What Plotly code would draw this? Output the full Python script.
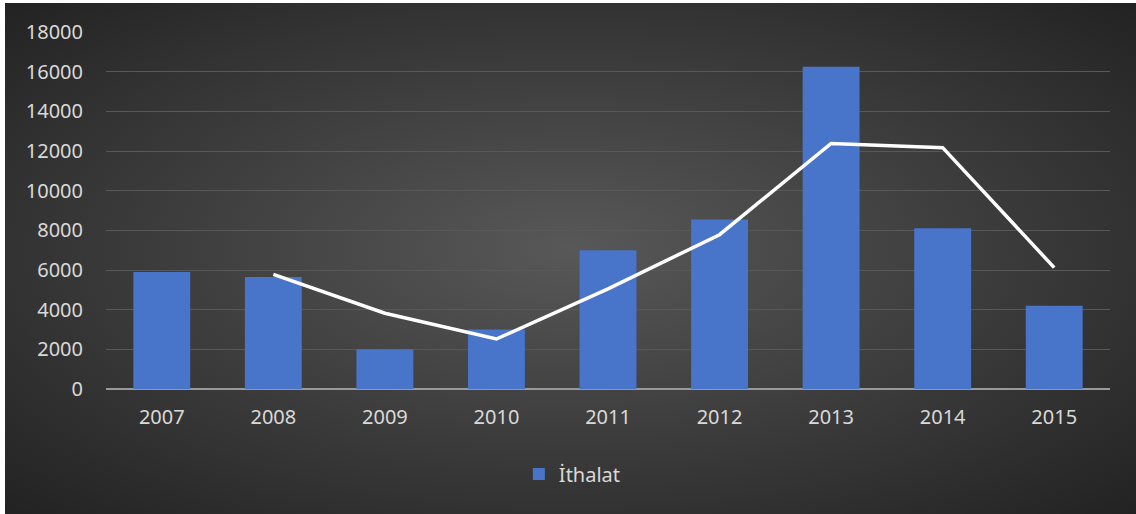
import base64
import plotly.graph_objects as go

years = ["2007", "2008", "2009", "2010", "2011", "2012", "2013", "2014", "2015"]
ithalat = [5900, 5650, 2000, 3000, 7000, 8550, 16250, 8100, 4200]
# trend line (starts at 2008)
trend_years = ["2008", "2009", "2010", "2011", "2012", "2013", "2014", "2015"]
trend = [5780, 3820, 2520, 5050, 7780, 12380, 12170, 6120]
y_ticks = [0, 2000, 4000, 6000, 8000, 10000, 12000, 14000, 16000, 18000]

# radial gradient background as an svg image
svg = """<svg xmlns='http://www.w3.org/2000/svg' width='1131' height='511' preserveAspectRatio='none'>
<defs><radialGradient id='g' cx='50%' cy='50%' r='75%' fx='50%' fy='48%'>
<stop offset='0%' stop-color='#585858'/><stop offset='100%' stop-color='#1f1f1f'/>
</radialGradient></defs><rect width='1131' height='511' fill='url(#g)'/></svg>"""
bg = "data:image/svg+xml;base64," + base64.b64encode(svg.encode()).decode()

fig = go.Figure()
fig.add_trace(go.Bar(
    x=years, y=ithalat, name="İthalat",
    marker=dict(color="#4874c9", line=dict(width=0)),
))
fig.add_trace(go.Scatter(
    x=trend_years, y=trend, mode="lines", showlegend=False,
    line=dict(color="white", width=3.5),
))

L, R, T, B = 106, 26, 32, 125
pw, ph = 1136 - L - R, 514 - T - B

fig.add_layout_image(
    source=bg, xref="paper", yref="paper",
    x=(5 - L) / pw, y=(389 - 3) / ph,
    sizex=(1136 - 5) / pw, sizey=(514 - 3) / ph,
    xanchor="left", yanchor="top", sizing="stretch", layer="below",
)

fig.update_layout(
    width=1136, height=514,
    margin=dict(l=L, r=R, t=T, b=B),
    paper_bgcolor="white", plot_bgcolor="rgba(0,0,0,0)",
    font=dict(family="Noto Sans", size=20, color="#d9d9d9"),
    bargap=0.49,
    showlegend=True,
    legend=dict(orientation="h", x=0.4645, xanchor="center",
                y=(389 - 474) / ph, yanchor="middle",
                font=dict(size=20, color="#d9d9d9"), bgcolor="rgba(0,0,0,0)"),
)
fig.update_xaxes(showgrid=False, ticks="", showline=False, zeroline=False,
                 ticklabelstandoff=14)
fig.update_yaxes(range=[0, 18000], tickvals=y_ticks, tickformat="d",
                 showgrid=True, gridcolor="#585858", gridwidth=1,
                 zeroline=True, zerolinecolor="#999999", zerolinewidth=2,
                 ticks="", ticklabelstandoff=22)

fig.write_html("out.html", config={"displayModeBar": False},
               post_script="document.body.style.margin='0';")
